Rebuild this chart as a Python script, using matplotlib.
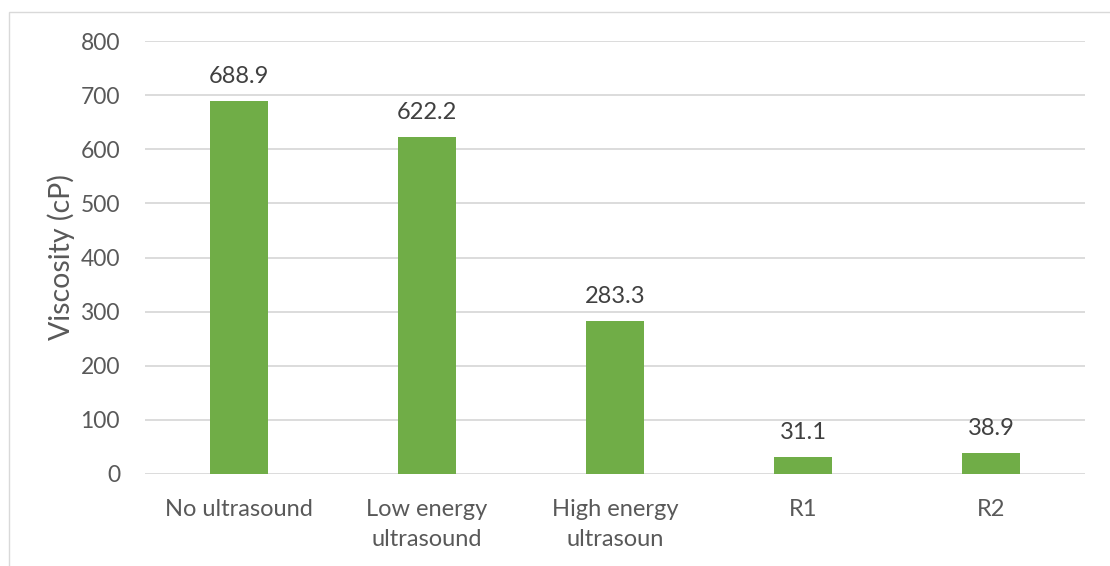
import matplotlib
matplotlib.use("Agg")
import matplotlib.pyplot as plt
from matplotlib.patches import Rectangle

categories = ["No ultrasound", "Low energy\nultrasound", "High energy\nultrasoun", "R1", "R2"]
viscosity = [688.9, 622.2, 283.3, 31.1, 38.9]
y_ticks = [0, 100, 200, 300, 400, 500, 600, 700, 800]

plt.rcParams["font.family"] = ["Lato", "DejaVu Sans"]

fig = plt.figure(figsize=(11.1, 5.66), dpi=100)
W, H = 1110, 566
ax = fig.add_axes([145 / W, 1 - 474 / H, 940 / W, (474 - 41) / H])

x = list(range(len(categories)))
bars = ax.bar(x, viscosity, width=0.313, color="#70ad47", zorder=3)

for xi, v in zip(x, viscosity):
    ax.annotate(f"{v:.1f}", (xi, v), xytext=(0, 10), textcoords="offset points",
                ha="center", va="bottom", fontsize=17, color="#404040")

ax.set_xlim(-0.5, len(categories) - 0.5)
ax.set_ylim(0, 800)
ax.set_yticks(y_ticks)
ax.set_yticklabels([str(t) for t in y_ticks], fontsize=16.5, color="#595959")
ax.set_xticks(x)
ax.set_xticklabels(categories, fontsize=17, color="#595959", linespacing=1.55)
ax.tick_params(axis="both", length=0)
ax.tick_params(axis="y", pad=18)
ax.tick_params(axis="x", pad=18)
ax.grid(axis="y", color="#d9d9d9", linewidth=1.3, zorder=0)
for s in ax.spines.values():
    s.set_visible(False)
ax.set_ylabel("Viscosity (cP)", fontsize=20.5, color="#595959", labelpad=4)

# chart-area outline (only left and top edges fall inside the canvas)
fig.add_artist(Rectangle((8.5 / W, -0.1), 1.2, 1 - 11.5 / H + 0.1, transform=fig.transFigure,
                         fill=False, edgecolor="#d9d9d9", linewidth=1.0))

fig.savefig("out.png", dpi=100, facecolor="white")
